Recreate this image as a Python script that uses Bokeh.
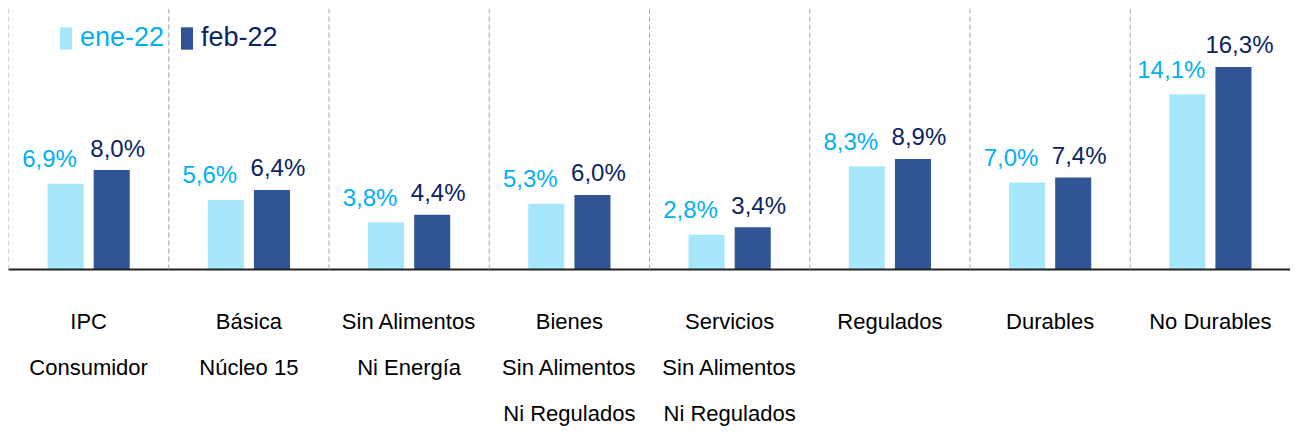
from bokeh.plotting import figure
from bokeh.models import ColumnDataSource, FactorRange, Range1d, Span, Legend, LegendItem
from bokeh.transform import dodge
from bokeh.core.properties import value
from bokeh.embed import file_html
from bokeh.resources import INLINE

categories = ["IPC\nConsumidor", "Básica\nNúcleo 15", "Sin Alimentos\nNi Energía",
              "Bienes\nSin Alimentos\nNi Regulados", "Servicios\nSin Alimentos\nNi Regulados",
              "Regulados", "Durables", "No Durables"]
ene22 = [6.9, 5.6, 3.8, 5.3, 2.8, 8.3, 7.0, 14.1]
feb22 = [8.0, 6.4, 4.4, 6.0, 3.4, 8.9, 7.4, 16.3]
series_names = ["ene-22", "feb-22"]

FONT = "Liberation Sans"
LIGHT = "#A6E7FC"
DARK = "#2F5597"
LIGHT_TXT = "#00B0F0"
DARK_TXT = "#0A2463"

def fmt(v):
    return f"{v:.1f}".replace(".", ",") + "%"

src = ColumnDataSource(dict(
    cat=categories, ene=ene22, feb=feb22,
    ene_lbl=[fmt(v) for v in ene22], feb_lbl=[fmt(v) for v in feb22],
))

p = figure(x_range=FactorRange(*categories), y_range=Range1d(0, 21),
           frame_width=1282, frame_height=261,
           output_backend="svg", toolbar_location=None,
           min_border_left=8, min_border_right=0, min_border_top=8, min_border_bottom=0)
p.outline_line_color = None
p.xgrid.visible = False
p.ygrid.visible = False
p.yaxis.visible = False
p.background_fill_color = "white"
p.border_fill_color = "white"

# category separators
for i in range(len(categories) + 1):
    p.add_layout(Span(location=i, dimension="height", line_color="#A6A6A6",
                      line_width=1, line_dash="5 3"))

r1 = p.vbar(x=dodge("cat", -0.144, range=p.x_range), top="ene", width=0.225,
            source=src, fill_color=LIGHT, line_color=None)
r2 = p.vbar(x=dodge("cat", 0.144, range=p.x_range), top="feb", width=0.225,
            source=src, fill_color=DARK, line_color=None)

p.text(x=dodge("cat", -0.144, range=p.x_range), y="ene", text="ene_lbl", source=src,
       text_font=value(FONT), text_font_size="24px", text_color=LIGHT_TXT,
       text_align="center", text_baseline="alphabetic", x_offset=-16, y_offset=-25)
p.text(x=dodge("cat", 0.144, range=p.x_range), y="feb", text="feb_lbl", source=src,
       text_font=value(FONT), text_font_size="24px", text_color=DARK_TXT,
       text_align="center", text_baseline="alphabetic", x_offset=6, y_offset=-22)

# axis
ax = p.xaxis[0]
ax.axis_line_color = "#222222"
ax.axis_line_width = 2
ax.major_tick_line_color = None
ax.minor_tick_line_color = None
ax.major_label_text_font = FONT
ax.major_label_text_font_size = "22px"
ax.major_label_text_color = "black"
ax.major_label_text_line_height = 1.85
ax.major_label_standoff = 33
ax.major_label_orientation = "horizontal"

# legends
for r, name, col, xloc in [(r1, series_names[0], LIGHT_TXT, 50), (r2, series_names[1], DARK_TXT, 171)]:
    lg = Legend(items=[LegendItem(label=name, renderers=[r])], location=(xloc, 216),
                glyph_width=15, glyph_height=28, label_standoff=7, padding=0, margin=0,
                border_line_color=None, background_fill_alpha=0,
                label_text_font=FONT, label_text_font_size="27px", label_text_color=col,
                label_height=28)
    p.add_layout(lg, "center")

open("out.html", "w").write(file_html(p, INLINE))
